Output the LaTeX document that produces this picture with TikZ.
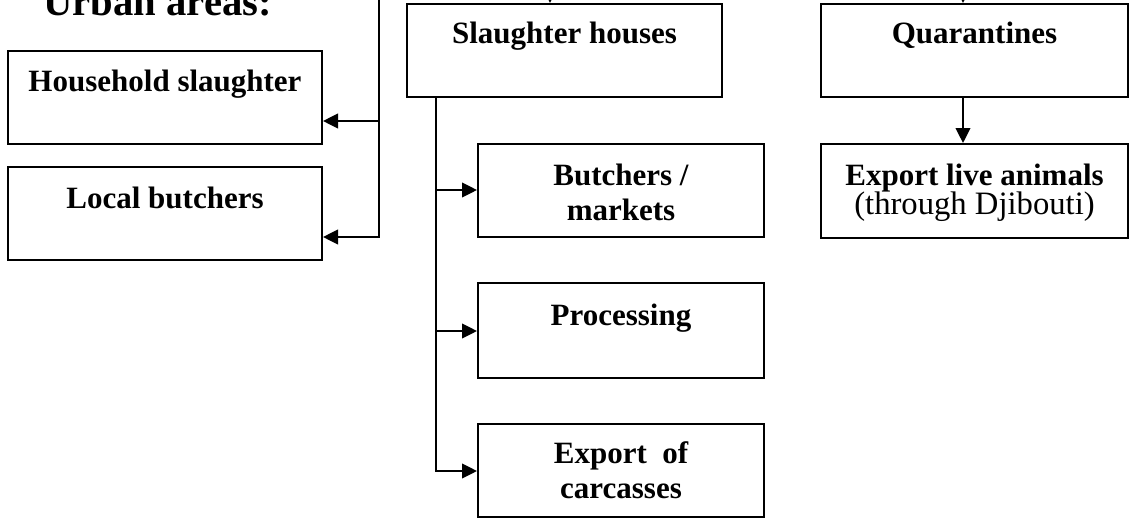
\documentclass[tikz,border=0pt]{standalone}
\usepackage{fontspec}
\setmainfont{Liberation Serif}
\usetikzlibrary{arrows.meta,fit}
\begin{document}
\begin{tikzpicture}[x=0.75pt,y=-0.75pt,
  box/.style={draw,line width=1.5pt,inner sep=0pt},
  lbl/.style={anchor=base,font=\bfseries\fontsize{23.25}{28}\selectfont,inner sep=0pt},
  sub/.style={anchor=base,font=\fontsize{24.5}{28}\selectfont,inner sep=0pt},
  conn/.style={line width=1.5pt},
  arr/.style={conn,-{Triangle[length=11.25pt,width=11pt]}}]
\useasboundingbox (0,0) rectangle (1130,518);
\clip (0,0) rectangle (1130,518);
% boxes
\node[box,fit={(8,51)(322,144)}] (hh) {};
\node[box,fit={(8,167)(322,260)}] (lb) {};
\node[box,fit={(407,4)(722,97)}] (sh) {};
\node[box,fit={(821,4)(1128,97)}] (q) {};
\node[box,fit={(821,144)(1128,238)}] (ela) {};
\node[box,fit={(478,144)(764,237)}] (bm) {};
\node[box,fit={(478,283)(764,378)}] (pr) {};
\node[box,fit={(478,424)(764,517)}] (ec) {};
% texts
\node[anchor=base west,inner sep=0pt,font=\bfseries\fontsize{30.5}{34}\selectfont] (ua) at (43,15) {Urban areas:};
\node[lbl] (hht) at (165,91) {Household slaughter};
\node[lbl] (lbt) at (165,208) {Local butchers};
\node[lbl] (sht) at (564.5,43) {Slaughter houses};
\node[lbl] (qt) at (974.5,43) {Quarantines};
\node[lbl] (elat) at (974.5,185) {Export live animals};
\node[sub] (elas) at (974.5,214) {(through Djibouti)};
\node[lbl] (bmt1) at (621,185) {Butchers /};
\node[lbl] (bmt2) at (621,220) {markets};
\node[lbl] (prt) at (621,325) {Processing};
\node[lbl] (ect1) at (621,463) {Export\ \ of};
\node[lbl] (ect2) at (621,498) {carcasses};
% connectors
\coordinate (uin) at (379,-20);
\coordinate (uj1) at (379,121);
\coordinate (uj2) at (379,237);
\draw[arr] (uin) |- (uj2 -| lb.east);
\draw[arr] (uj1) -- (uj1 -| hh.east);
\coordinate (shin) at (550,-20);
\draw[arr] (shin) -- (shin |- sh.north);
\coordinate (qin) at (963,-20);
\draw[arr] (qin) -- (qin |- q.north);
\draw[arr] (q.south -| qin) -- (ela.north -| qin);
\coordinate (sj1) at (436,190);
\coordinate (sj2) at (436,331);
\coordinate (sj3) at (436,471);
\draw[arr] (sh.south -| sj3) |- (sj3 -| ec.west);
\draw[arr] (sj1) -- (sj1 -| bm.west);
\draw[arr] (sj2) -- (sj2 -| pr.west);
\end{tikzpicture}
\end{document}
